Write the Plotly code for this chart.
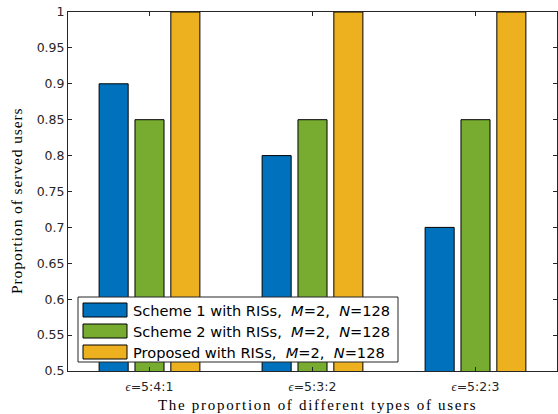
import plotly.graph_objects as go

categories = ["\u03f5=5:4:1", "\u03f5=5:3:2", "\u03f5=5:2:3"]
scheme1 = [0.90, 0.80, 0.70]
scheme2 = [0.85, 0.85, 0.85]
proposed = [1.00, 1.00, 1.00]
series_names = [
    "Scheme 1 with RISs,\u00a0\u00a0<i>M</i>=2,\u00a0\u00a0<i>N</i>=128",
    "Scheme 2 with RISs,\u00a0\u00a0<i>M</i>=2,\u00a0\u00a0<i>N</i>=128",
    "Proposed with RISs,\u00a0\u00a0<i>M</i>=2,\u00a0\u00a0<i>N</i>=128",
]
colors = ["#0072BD", "#77AC30", "#EDB120"]
y_ticks = [0.5, 0.55, 0.6, 0.65, 0.7, 0.75, 0.8, 0.85, 0.9, 0.95, 1.0]
y_tick_labels = ["0.5", "0.55", "0.6", "0.65", "0.7", "0.75", "0.8", "0.85", "0.9", "0.95", "1"]
x_title = "The proportion of different types of users"
y_title = "Proportion of served users"

W, H = 558, 414
L, R, T, B = 68, 557, 12, 371

fig = go.Figure()
xpos = [1, 2, 3]
for vals, name, col in zip([scheme1, scheme2, proposed], series_names, colors):
    fig.add_trace(go.Bar(x=xpos, y=vals, name=name, marker=dict(color=col, line=dict(color="#000000", width=1)),
                         showlegend=False))

tick_label_html = ['<span style="font-family:\'Liberation Serif\',serif;font-style:italic">\u03f5</span>=' + c.split("=")[1] for c in categories]

SANS = "DejaVu Sans, sans-serif"
SERIF = "Liberation Serif, Times New Roman, serif"

fig.update_layout(
    width=W, height=H,
    margin=dict(l=L, r=W - R, t=T, b=H - B),
    paper_bgcolor="white", plot_bgcolor="white",
    barmode="group", bargap=0.34, bargroupgap=0.19,
    font=dict(family=SANS, color="#262626"),
    xaxis=dict(range=[0.5, 3.5], tickvals=xpos, ticktext=tick_label_html,
               ticks="inside", ticklen=4, tickcolor="#262626", mirror="ticks",
               showline=True, linecolor="#262626", linewidth=1, showgrid=False, zeroline=False,
               tickfont=dict(size=12.5), ticklabelstandoff=4),
    yaxis=dict(range=[0.5, 1.0], tickvals=y_ticks, ticktext=y_tick_labels,
               ticks="inside", ticklen=4, tickcolor="#262626", mirror="ticks",
               showline=True, linecolor="#262626", linewidth=1, showgrid=False, zeroline=False,
               tickfont=dict(size=12.5)),
)

def px(x):
    return (x - L) / (R - L)

def py(y):
    return (B - y) / (B - T)

# axis titles (MATLAB/LaTeX style)
fig.add_annotation(xref="paper", yref="paper", x=px(317), y=py(405), showarrow=False,
                   text='<span style="letter-spacing:1.7px">' + x_title + '</span>',
                   xanchor="center", yanchor="middle",
                   font=dict(family=SERIF, size=15, color="#000000"))
fig.add_annotation(xref="paper", yref="paper", x=px(16), y=py(201), showarrow=False, textangle=-90,
                   text='<span style="letter-spacing:0.9px">' + y_title + '</span>',
                   xanchor="center", yanchor="middle",
                   font=dict(family=SERIF, size=15.5, color="#000000"))

# custom MATLAB-style legend
fig.add_shape(type="rect", xref="paper", yref="paper", x0=px(78), x1=px(398), y0=py(362), y1=py(297),
              fillcolor="white", line=dict(color="#262626", width=1), layer="above")
row_y = [310, 331, 352]
for yy, name, col in zip(row_y, series_names, colors):
    fig.add_shape(type="rect", xref="paper", yref="paper", x0=px(83), x1=px(127), y0=py(yy + 7), y1=py(yy - 7),
                  fillcolor=col, line=dict(color="#000000", width=1), layer="above")
    fig.add_annotation(xref="paper", yref="paper", x=px(131), y=py(yy), text=name, showarrow=False,
                       xanchor="left", yanchor="middle", font=dict(family=SANS, size=14.6, color="#000000"))

fig.write_html("out.html")
